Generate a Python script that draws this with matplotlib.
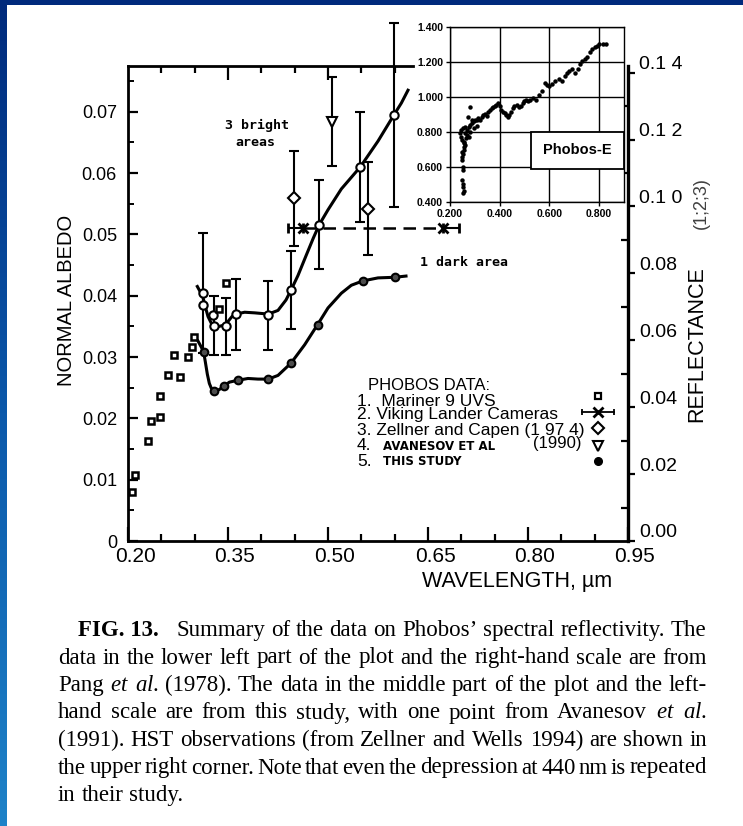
import numpy as np
import matplotlib.pyplot as plt
from matplotlib import font_manager
from matplotlib.transforms import ScaledTranslation
from matplotlib.patches import Rectangle
from matplotlib.lines import Line2D
from matplotlib.colors import LinearSegmentedColormap
from matplotlib.ticker import FormatStrFormatter

W, H = 743, 826

# --- Mariner 9 UVS (reflectance, right scale) ---
uvs_wl = [0.2055, 0.211, 0.2295, 0.2345, 0.2485, 0.248, 0.2595, 0.2685, 0.278,
          0.2895, 0.296, 0.2995, 0.337, 0.347]
uvs_refl = [0.0146, 0.0198, 0.0300, 0.0360, 0.0370, 0.0434, 0.0496, 0.0556, 0.0489,
            0.0549, 0.0579, 0.0609, 0.0694, 0.0770]

# --- Viking Lander cameras (reflectance) ---
vik_wl = [0.4625, 0.672]
vik_refl = [0.0935, 0.0935]
vik_xerr = [[0.022, 0.0], [0.0, 0.025]]

# --- Zellner and Capen 1974 (reflectance) ---
zc_wl = [0.4495, 0.5595]
zc_refl = [0.1025, 0.0994]
zc_err = [0.0142, 0.0140]

# --- Avanesov et al. (normal albedo, left scale) ---
av_wl = [0.506]
av_alb = [0.0684]
av_err = [0.0073]

# --- this study: 3 bright areas ---
br_wl = [0.312, 0.3295, 0.347, 0.362, 0.4105, 0.4445, 0.487, 0.5485, 0.5985]
br_alb = [0.0404, 0.0351, 0.0350, 0.0370, 0.0368, 0.0409, 0.0516, 0.0610, 0.0694]
br_err = [0.0098, 0.0048, 0.0046, 0.0058, 0.0056, 0.0064, 0.0073, 0.0090, 0.0150]
br_extra_wl = [0.312, 0.327]
br_extra_alb = [0.0385, 0.0369]
br_curve_wl = [0.304, 0.309, 0.312, 0.316, 0.320, 0.325, 0.330, 0.337, 0.344, 0.350,
               0.356, 0.362, 0.375, 0.390, 0.4105, 0.425, 0.437, 0.4445, 0.455, 0.467,
               0.478, 0.487, 0.500, 0.520, 0.5485, 0.575, 0.5985, 0.610, 0.620]
br_curve_alb = [0.0415, 0.0405, 0.0399, 0.0382, 0.0366, 0.0355, 0.0351, 0.0350, 0.0352, 0.0358,
                0.0366, 0.0370, 0.0373, 0.0372, 0.0370, 0.0376, 0.0393, 0.0409, 0.0433, 0.0465,
                0.0494, 0.0516, 0.0540, 0.0574, 0.0610, 0.0652, 0.0694, 0.0714, 0.0735]

# --- this study: 1 dark area ---
dk_wl = [0.3135, 0.3295, 0.3445, 0.3645, 0.4105, 0.4445, 0.4845, 0.552, 0.600]
dk_alb = [0.0308, 0.0244, 0.0253, 0.0262, 0.0264, 0.0290, 0.0353, 0.0424, 0.0430]
dk_curve_wl = [0.305, 0.310, 0.3135, 0.316, 0.319, 0.322, 0.325, 0.3295, 0.337, 0.3445,
               0.352, 0.3645, 0.380, 0.395, 0.4105, 0.425, 0.4445, 0.465, 0.4845, 0.500,
               0.520, 0.535, 0.552, 0.575, 0.600, 0.617]
dk_curve_alb = [0.0326, 0.0316, 0.0308, 0.0292, 0.0272, 0.0257, 0.0249, 0.0244, 0.0247, 0.0253,
                0.0259, 0.0262, 0.0265, 0.0264, 0.0264, 0.0270, 0.0290, 0.0320, 0.0353, 0.0380,
                0.0404, 0.0417, 0.0424, 0.0429, 0.0430, 0.0432]

# --- HST / Phobos-E inset (relative reflectance) ---
hst_wl = [0.253, 0.253, 0.250, 0.253, 0.253, 0.255, 0.253,
          0.249, 0.253, 0.255, 0.258, 0.255, 0.249, 0.245, 0.242, 0.245, 0.253,
          0.262, 0.268, 0.275, 0.282, 0.288, 0.295, 0.301, 0.308, 0.314, 0.321,
          0.328, 0.334, 0.341, 0.347, 0.354, 0.361, 0.367, 0.374, 0.380, 0.387,
          0.393, 0.400, 0.407, 0.413, 0.420, 0.426, 0.433, 0.439, 0.446, 0.453,
          0.459, 0.468, 0.479, 0.486, 0.492, 0.499, 0.505, 0.512, 0.521, 0.532,
          0.545, 0.558, 0.571, 0.582, 0.591, 0.597, 0.611, 0.624, 0.637, 0.650,
          0.661, 0.670, 0.679, 0.689, 0.703, 0.716, 0.722, 0.732, 0.742, 0.753,
          0.762, 0.771, 0.782, 0.792, 0.801, 0.814, 0.828,
          0.279, 0.271, 0.262, 0.268, 0.266, 0.258, 0.275, 0.282, 0.295, 0.308,
          0.288, 0.249, 0.262, 0.250]
hst_refl = [0.600, 0.585, 0.523, 0.504, 0.485, 0.465, 0.450,
            0.658, 0.677, 0.696, 0.715, 0.735, 0.754, 0.773, 0.792, 0.812, 0.821,
            0.831, 0.812, 0.831, 0.840, 0.850, 0.860, 0.869, 0.869, 0.879, 0.869,
            0.888, 0.898, 0.904, 0.892, 0.917, 0.927, 0.937, 0.942, 0.950, 0.956,
            0.965, 0.946, 0.927, 0.917, 0.908, 0.898, 0.888, 0.898, 0.917, 0.937,
            0.946, 0.956, 0.942, 0.950, 0.965, 0.979, 0.985, 0.975, 0.985, 0.994,
            0.985, 1.013, 1.033, 1.081, 1.071, 1.062, 1.077, 1.090, 1.100, 1.090,
            1.119, 1.138, 1.148, 1.158, 1.138, 1.158, 1.187, 1.206, 1.219, 1.231,
            1.258, 1.273, 1.283, 1.292, 1.300, 1.302, 1.302,
            0.942, 0.888, 0.792, 0.783, 0.763, 0.744, 0.773, 0.802, 0.821, 0.835,
            0.869, 0.687, 0.725, 0.638]

x_major = [0.20, 0.35, 0.50, 0.65, 0.80, 0.95]
x_labels = ['0.20', '0.35', '0.50', '0.65', '0.80', '0.95']
alb_ticks = [0, 0.01, 0.02, 0.03, 0.04, 0.05, 0.06, 0.07]
alb_labels = ['0', '0.01', '0.02', '0.03', '0.04', '0.05', '0.06', '0.07']
refl_ticks = [0, 0.02, 0.04, 0.06, 0.08, 0.10, 0.12, 0.14]
refl_labels = ['0.00', '0.02', '0.04', '0.06', '0.08', '0.1 0', '0.1 2', '0.1 4']

caption_head = 'Summary of the data on Phobos\u2019 spectral reflectivity. The'
caption_lines = [
    'data in the lower left part of the plot and the right-hand scale are from',
    r'Pang $et$ $al.$ (1978). The data in the middle part of the plot and the left-',
    r'hand scale are from this study, with one point from Avanesov $et$ $al.$',
    '(1991). HST observations (from Zellner and Wells 1994) are shown in',
    'the upper right corner. Note that even the depression at 440 nm is repeated',
    'in their study.',
]


def fx(px):
    return px / W


def fy(py):
    return 1 - py / H


plt.rcParams['font.family'] = 'Liberation Sans'
plt.rcParams['mathtext.fontset'] = 'custom'
plt.rcParams['mathtext.rm'] = 'Liberation Serif'
plt.rcParams['mathtext.it'] = 'Liberation Serif:italic'

installed = {f.name for f in font_manager.fontManager.ttflist}
if 'Liberation Sans Narrow' in installed:
    tick_font, tick_size = 'Liberation Sans Narrow', 17.5
else:
    tick_font, tick_size = 'Liberation Sans', 15

fig = plt.figure(figsize=(W / 100, H / 100), dpi=100)
renderer = fig.canvas.get_renderer()

# blue frame of the slide
band = fig.add_axes([0, 0, fx(7), 1])
band.imshow(np.linspace(0, 1, 200).reshape(-1, 1), aspect='auto',
            cmap=LinearSegmentedColormap.from_list('edge', ['#002a7c', '#0b58aa', '#1e82c8']))
band.axis('off')
fig.add_artist(Rectangle((0, fy(5)), 1, 5 / H, transform=fig.transFigure,
                         color='#002a7c', lw=0))

# main axes: normal albedo on the left
ax = fig.add_axes([fx(128), fy(541), 500 / W, 475 / H])
ax.set_xlim(0.2, 0.95)
ax.set_ylim(0, 475 / 6133)
ax.spines['top'].set_visible(False)
ax.spines['right'].set_visible(False)
ax.spines['left'].set_linewidth(2)
ax.spines['bottom'].set_linewidth(2)

ax.set_xticks(x_major)
ax.set_xticklabels(x_labels, family=tick_font, fontsize=tick_size)
ax.set_xticks([0.25, 0.30, 0.40, 0.45, 0.55, 0.60, 0.70, 0.75, 0.85, 0.90], minor=True)
ax.tick_params(axis='x', which='major', direction='in', length=10, width=1.6, pad=4)
ax.tick_params(axis='x', which='minor', direction='in', length=5, width=1.6)
shift = ScaledTranslation(0.07, 0, fig.dpi_scale_trans)
for lbl in ax.get_xticklabels():
    lbl.set_transform(lbl.get_transform() + shift)

ax.set_yticks(alb_ticks)
ax.set_yticklabels(alb_labels, fontsize=13)
ax.set_yticks([0.005, 0.015, 0.025, 0.035, 0.045, 0.055, 0.065, 0.075], minor=True)
ax.tick_params(axis='y', which='major', direction='in', length=7, width=1.6, pad=8)
ax.tick_params(axis='y', which='minor', direction='in', length=4, width=1.4)

# top frame line with its ticks, stopping at the inset
top = ax.secondary_xaxis('top')
top.set_xticks([0.35, 0.50])
top.set_xticks([0.25, 0.30, 0.40, 0.45, 0.55, 0.60], minor=True)
top.set_xticklabels([])
top.tick_params(which='major', direction='in', length=10, width=1.6)
top.tick_params(which='minor', direction='in', length=5, width=1.6)
top.spines['top'].set_linewidth(2)
top.spines['top'].set_bounds(0.2, 0.627)

# reflectance on the right
ax2 = ax.twinx()
ax2.set_ylim(0, 475 / 3345)
for side in ['left', 'top', 'bottom']:
    ax2.spines[side].set_visible(False)
ax2.spines['right'].set_linewidth(2.4)
ax2.set_yticks(refl_ticks)
ax2.set_yticklabels(refl_labels, fontsize=14)
ax2.set_yticks([0.01, 0.03, 0.05, 0.07, 0.09, 0.11, 0.13], minor=True)
ax2.tick_params(axis='y', which='major', direction='out', length=5, width=1.6, pad=3)
ax2.tick_params(axis='y', which='minor', direction='in', length=5, width=1.6)
up = ScaledTranslation(0, 0.10, fig.dpi_scale_trans)
for lbl in ax2.get_yticklabels():
    lbl.set_transform(lbl.get_transform() + up)

eb = dict(ecolor='black', elinewidth=1.5, capsize=3.5, capthick=1.5, color='black')

# curves from this study
ax.plot(br_curve_wl, br_curve_alb, color='black', lw=2.2, clip_on=False)
ax.plot(dk_curve_wl, dk_curve_alb, color='black', lw=2.2)
c = ax.errorbar(br_wl, br_alb, yerr=br_err, fmt='o', ms=6, mfc='white', mec='black',
                mew=1.5, zorder=4, **eb)
for a in c.get_children():
    a.set_clip_on(False)
ax.plot(br_extra_wl, br_extra_alb, 'o', ms=6, mfc='white', mec='black', mew=1.5, zorder=4)
ax.plot(dk_wl, dk_alb, 'o', ms=5.5, mfc='0.3', mec='black', mew=1.5, zorder=4)

# Avanesov point
ax.errorbar(av_wl, av_alb, yerr=av_err, fmt='v', ms=7.5, mfc='white', mec='black',
            mew=1.5, zorder=4, **eb)

# Mariner 9, Viking, Zellner & Capen on the reflectance scale
ax2.plot(uvs_wl, uvs_refl, 's', ms=4.5, mfc='none', mec='black', mew=1.8)
ax2.plot(vik_wl, vik_refl, '--', color='black', lw=1.8, dashes=(5, 3))
ax2.errorbar(vik_wl, vik_refl, xerr=vik_xerr, fmt='x', ms=7, mew=2, **eb)
ax2.errorbar(zc_wl, zc_refl, yerr=zc_err, fmt='D', ms=6.5, mfc='white', mec='black',
             mew=1.5, zorder=4, **eb)

# labels
fig.text(fx(66), fy(300), 'NORMAL ALBEDO', rotation=90, ha='center', va='center',
         fontsize=14.5)
fig.text(fx(697), fy(344), 'REFLECTANCE', rotation=90, ha='center', va='center',
         fontsize=15.5)
fig.text(fx(701), fy(203), '(1;2;3)', rotation=90, ha='center', va='center',
         fontsize=13, color='0.25')
fig.text(fx(517), fy(582), 'WAVELENGTH, µm', ha='center', va='center', fontsize=15.5)

mono = dict(family='DejaVu Sans Mono', fontweight='bold', fontsize=9.5)
fig.text(fx(257), fy(125), '3 bright', ha='center', va='center', **mono)
fig.text(fx(255), fy(143), 'areas', ha='center', va='center', **mono)
fig.text(fx(420), fy(262), '1 dark area', ha='left', va='center', **mono)

# key to the data sets
fig.text(fx(368), fy(385), 'PHOBOS DATA:', ha='left', va='center', fontsize=12)
fig.text(fx(357), fy(401), '1.  Mariner 9 UVS', ha='left', va='center', fontsize=12.5)
fig.text(fx(357), fy(415), '2. Viking Lander Cameras', ha='left', va='center', fontsize=12.5)
fig.text(fx(357), fy(430), '3. Zellner and Capen (1 97 4)', ha='left', va='center',
         fontsize=12.5)
fig.text(fx(357), fy(446), '4.', ha='left', va='center', fontsize=12.5)
fig.text(fx(383), fy(446), 'AVANESOV ET AL', ha='left', va='center', family='DejaVu Sans',
         fontweight='bold', fontsize=8.5)
fig.text(fx(533), fy(444), '(1990)', ha='left', va='center', fontsize=12)
fig.text(fx(357), fy(462), '5.', ha='left', va='center', fontsize=12.5)
fig.text(fx(383), fy(462), 'THIS STUDY', ha='left', va='center', family='DejaVu Sans',
         fontweight='bold', fontsize=8.5)

key = dict(transform=fig.transFigure, color='black', ls='none')
fig.add_artist(Line2D([fx(598)], [fy(396)], marker='s', ms=5, mfc='none', mew=1.6, **key))
fig.add_artist(Line2D([fx(582), fx(614)], [fy(412), fy(412)], color='black', lw=1.3,
                      marker='|', ms=5, mew=1.3, transform=fig.transFigure))
fig.add_artist(Line2D([fx(598)], [fy(412)], marker='x', ms=7, mew=2, **key))
fig.add_artist(Line2D([fx(598)], [fy(428)], marker='D', ms=6, mfc='white', mew=1.5, **key))
fig.add_artist(Line2D([fx(598)], [fy(446)], marker='v', ms=7, mfc='white', mew=1.5, **key))
fig.add_artist(Line2D([fx(598)], [fy(461)], marker='o', ms=5.5, mfc='black', **key))

# inset: Phobos-E / HST spectrum
axi = fig.add_axes([fx(450), fy(202), 174 / W, 175 / H])
axi.set_xlim(0.2, 0.9)
axi.set_ylim(0.4, 1.4)
axi.set_xticks([0.2, 0.4, 0.6, 0.8])
axi.set_yticks([0.4, 0.6, 0.8, 1.0, 1.2, 1.4])
axi.xaxis.set_major_formatter(FormatStrFormatter('%.3f'))
axi.yaxis.set_major_formatter(FormatStrFormatter('%.3f'))
axi.grid(True, color='black', lw=1.0)
axi.set_axisbelow(True)
axi.tick_params(direction='out', length=3, width=1, labelsize=7.5, pad=2)
for lbl in axi.get_xticklabels() + axi.get_yticklabels():
    lbl.set_fontweight('bold')
for s in axi.spines.values():
    s.set_linewidth(1.0)
axi.plot(hst_wl, hst_refl, 'o', ms=3.2, color='black', mew=0)
axi.add_patch(Rectangle((0.525, 0.59), 0.375, 0.21, fc='white', ec='black', lw=1.3,
                        zorder=3))
axi.text(0.712, 0.695, 'Phobos-E', ha='center', va='center', fontsize=10.5,
         fontweight='bold', zorder=4)


# caption, set word by word so each full line is justified
def set_words(words, x0, x1, base, size, justify=True):
    while True:
        texts = [fig.text(fx(x0), fy(base), w, family='Liberation Serif', fontsize=size,
                          ha='left', va='baseline') for w in words]
        widths = [t.get_window_extent(renderer).width for t in texts]
        em = size * 100 / 72
        if justify and len(words) > 1:
            gap = (x1 - x0 - sum(widths)) / (len(words) - 1)
        else:
            gap = 0.25 * em
        if not justify or gap >= 0.14 * em:
            break
        for t in texts:
            t.remove()
        size *= 0.98
    x = x0
    for t, w in zip(texts, widths):
        t.set_x(fx(x))
        x += w + gap


cap_size = 16.5
fig.text(fx(78), fy(636), 'FIG. 13.', family='Liberation Serif', fontsize=cap_size,
         fontweight='bold', ha='left', va='baseline')
set_words(caption_head.split(), 176, 706, 636, cap_size)
for i, line in enumerate(caption_lines):
    last = i == len(caption_lines) - 1
    set_words(line.split(), 58, 707, 663.5 + 27.5 * i, cap_size, justify=not last)

fig.savefig('out.png', dpi=100)
